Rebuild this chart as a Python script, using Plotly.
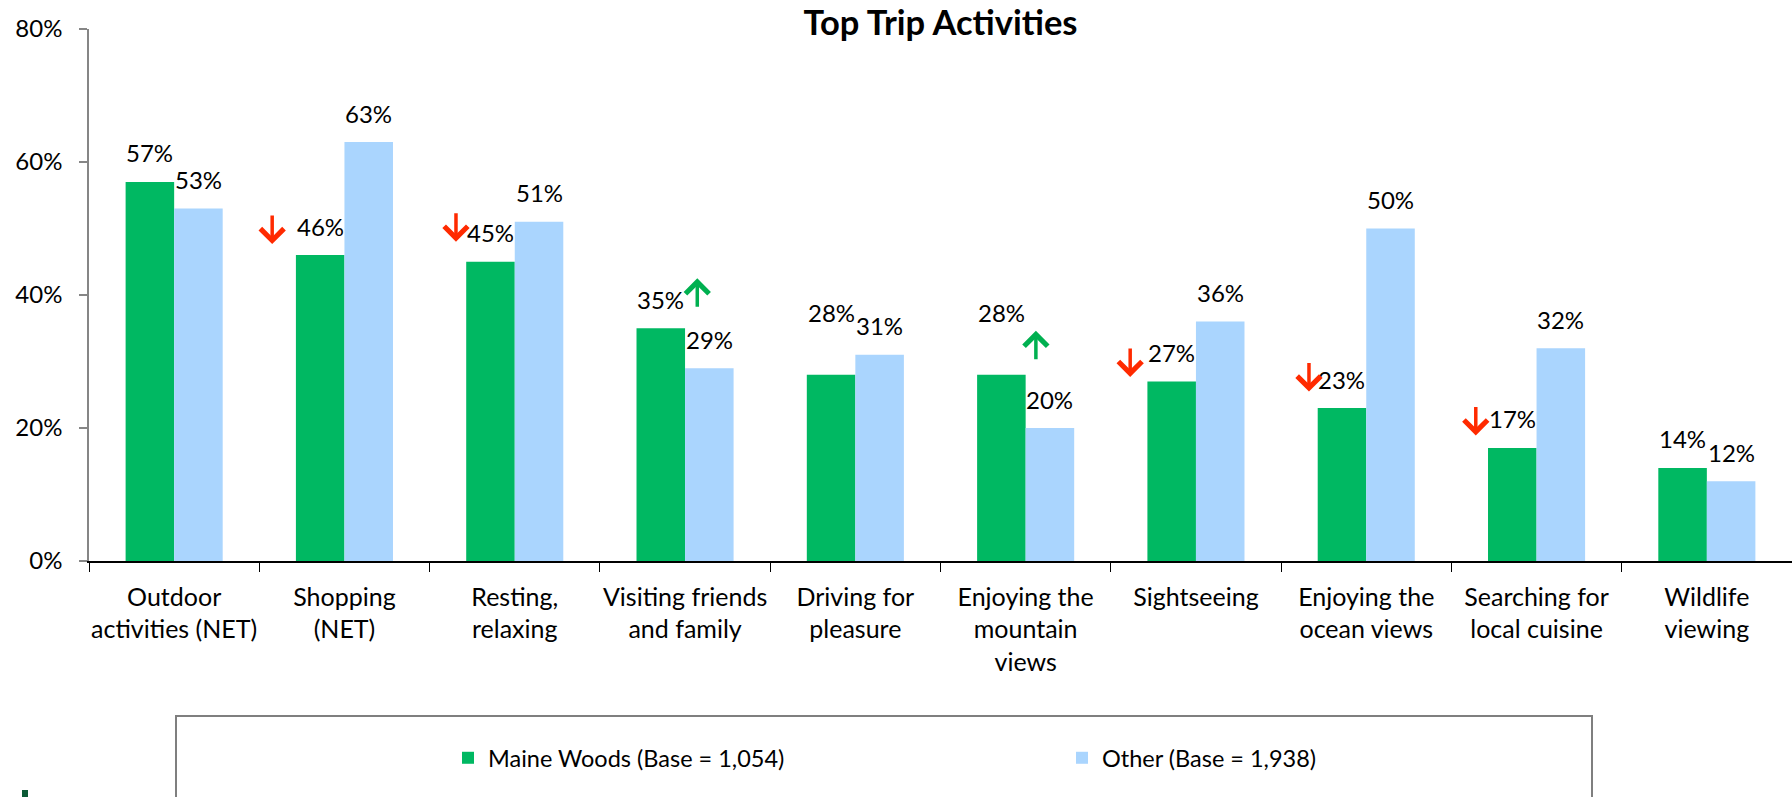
import plotly.graph_objects as go

# ---------------- data ----------------
categories = [
    "Outdoor<br>activities (NET)",
    "Shopping<br>(NET)",
    "Resting,<br>relaxing",
    "Visiting friends<br>and family",
    "Driving for<br>pleasure",
    "Enjoying the<br>mountain<br>views",
    "Sightseeing",
    "Enjoying the<br>ocean views",
    "Searching for<br>local cuisine",
    "Wildlife<br>viewing",
]
maine_woods = [57, 46, 45, 35, 28, 28, 27, 23, 17, 14]
other = [53, 63, 51, 29, 31, 20, 36, 50, 32, 12]
# significance of Maine Woods vs Other (arrow marks)
significance = [None, "down", "down", "up", None, "up", "down", "down", "down", None]

series_names = ["Maine Woods (Base = 1,054)", "Other (Base = 1,938)"]
y_ticks = [0, 20, 40, 60, 80]

# ---------------- style ----------------
GREEN = "#00B862"
BLUE = "#AAD5FE"
RED_ARROW = "#FF2A00"
GREEN_ARROW = "#00B050"
FONT = "Lato"
BARGAP = 0.43
LABEL_LIFT = 29                       # px above bar top (label centre)
MAINE_LABEL_LIFT = {4: 62, 5: 62}     # manually raised labels
# arrow centre offsets (px) relative to the green bar centre / bar top
ARROW_OFFSETS = {1: (-48, -26), 2: (-34.5, -35), 3: (36.5, -35), 5: (34.5, -29),
                 6: (-41.5, -19.5), 7: (-33, -31.5), 8: (-36.5, -27.5)}
ARROW_LEN = 30

W, H = 1792, 797
ML, MR, MT, MB = 89, 0, 29, 236

fig = go.Figure()
fig.add_trace(go.Bar(name=series_names[0], x=categories, y=maine_woods,
                     marker=dict(color=GREEN, line=dict(width=0)), hoverinfo="skip"))
fig.add_trace(go.Bar(name=series_names[1], x=categories, y=other,
                     marker=dict(color=BLUE, line=dict(width=0)), hoverinfo="skip"))

half = (1 - BARGAP) / 4.0  # bar centre offset in category units
annotations = []
for i in range(len(categories)):
    lift = MAINE_LABEL_LIFT.get(i, LABEL_LIFT)
    annotations.append(dict(x=i - half, y=maine_woods[i], xref="x", yref="y",
                            text=f"{maine_woods[i]}%", showarrow=False, yshift=lift,
                            yanchor="middle", xanchor="center",
                            font=dict(family=FONT, size=24, color="black")))
    annotations.append(dict(x=i + half, y=other[i], xref="x", yref="y",
                            text=f"{other[i]}%", showarrow=False, yshift=LABEL_LIFT,
                            yanchor="middle", xanchor="center",
                            font=dict(family=FONT, size=24, color="black")))
    sig = significance[i]
    if sig:
        dx, dy = ARROW_OFFSETS[i]
        if sig == "down":
            ysh, ay, col = -dy - ARROW_LEN / 2, -ARROW_LEN, RED_ARROW
        else:
            ysh, ay, col = -dy + ARROW_LEN / 2, ARROW_LEN, GREEN_ARROW
        annotations.append(dict(x=i - half, y=maine_woods[i], xref="x", yref="y",
                                text="", showarrow=True, ax=0, ay=ay,
                                xshift=dx, yshift=ysh,
                                arrowhead=4, arrowsize=1.3, arrowwidth=3.5,
                                arrowcolor=col, standoff=0, startstandoff=0))

plot_h = H - MT - MB
plot_w = W - ML - MR
def px_to_paper_x(px):
    return (px - ML) / plot_w
def px_to_paper_y(py):
    return (H - MB - py) / plot_h

shapes = [
    # legend frame
    dict(type="rect", xref="paper", yref="paper",
         x0=px_to_paper_x(176), x1=px_to_paper_x(1592),
         y0=px_to_paper_y(830), y1=px_to_paper_y(716),
         line=dict(color="#7F7F7F", width=2), fillcolor="rgba(0,0,0,0)", layer="below"),
    # small dark mark at bottom left
    dict(type="rect", xref="paper", yref="paper",
         x0=px_to_paper_x(22), x1=px_to_paper_x(28),
         y0=px_to_paper_y(830), y1=px_to_paper_y(790),
         line=dict(width=0), fillcolor="#0B5A36"),
]

fig.update_layout(
    width=W, height=H,
    margin=dict(l=ML, r=MR, t=MT, b=MB, pad=0),
    paper_bgcolor="white", plot_bgcolor="white",
    barmode="group", bargap=BARGAP, bargroupgap=0,
    title=dict(text="<b>Top Trip Activities</b>", x=0.5, xref="paper",
               y=1 - 23 / H, yref="container", yanchor="middle", xanchor="center",
               font=dict(family=FONT, size=34.5, color="black")),
    font=dict(family=FONT, color="black"),
    showlegend=True,
    legend=dict(orientation="h", xref="container", yref="container",
                x=448 / W, y=1 - 758 / H, xanchor="left", yanchor="middle",
                entrywidth=569, entrywidthmode="pixels",
                font=dict(family=FONT, size=23.5, color="black"),
                bgcolor="rgba(0,0,0,0)", borderwidth=0, traceorder="normal"),
    annotations=annotations,
    shapes=shapes,
    hovermode=False,
)
fig.update_xaxes(type="category", tickson="boundaries", ticks="outside", ticklen=9,
                 tickwidth=1, tickcolor="black", showline=True, linecolor="black",
                 linewidth=1.5, showgrid=False, zeroline=False, automargin=False,
                 tickangle=0,
                 tickfont=dict(family=FONT, size=25, color="black"),
                 ticklabelstandoff=13)
fig.update_yaxes(range=[0, 80], tickvals=y_ticks, ticktext=[f"{v}%" for v in y_ticks],
                 ticks="outside", ticklen=8, tickwidth=1.5, tickcolor="#868686",
                 showline=True, linecolor="#868686", linewidth=1.5, showgrid=False,
                 zeroline=False, automargin=False,
                 tickfont=dict(family=FONT, size=24, color="black"),
                 ticklabelstandoff=12)

fig.write_html("out.html", config={"displayModeBar": False},
               post_script="document.body.style.margin='0';document.body.style.overflow='hidden';")
